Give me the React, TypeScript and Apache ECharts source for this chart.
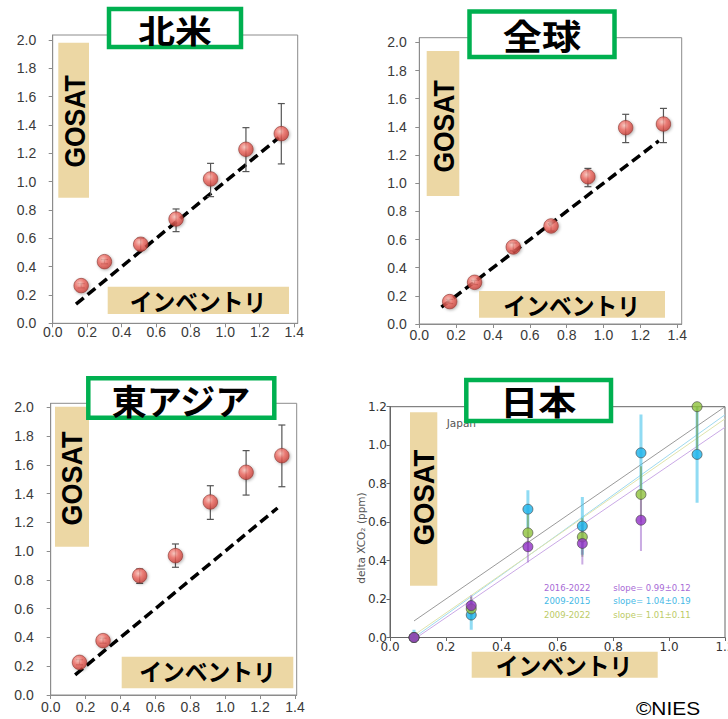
import React, { useEffect, useRef } from 'react';
import * as echarts from 'echarts';

// ---------- data ----------
const X_TICKS = [0, 0.2, 0.4, 0.6, 0.8, 1.0, 1.2, 1.4];
const Y_TICKS = [0, 0.2, 0.4, 0.6, 0.8, 1.0, 1.2, 1.4, 1.6, 1.8, 2.0];
const JP_TICKS = [0, 0.2, 0.4, 0.6, 0.8, 1.0, 1.2];

// inventory (x) values shared by the three regional panels
const INV_X = [0.165, 0.3, 0.51, 0.715, 0.915, 1.12, 1.325];

// 北米
const NA_Y = [0.266, 0.435, 0.558, 0.736, 1.019, 1.228, 1.339];
const NA_LO = [0.25, 0.42, 0.515, 0.647, 0.894, 1.071, 1.125];
const NA_HI = [0.28, 0.45, 0.6, 0.807, 1.129, 1.381, 1.551];
const NA_LINE_X = [0.135, 1.31];

// 全球
const GL_Y = [0.159, 0.296, 0.547, 0.696, 1.046, 1.394, 1.42];
const GL_LO = [0.145, 0.28, 0.52, 0.66, 0.975, 1.288, 1.288];
const GL_HI = [0.175, 0.31, 0.575, 0.73, 1.105, 1.489, 1.531];
const GL_LINE_X = [0.12, 1.3];

// 東アジア
const EA_Y = [0.227, 0.378, 0.83, 0.969, 1.342, 1.548, 1.664];
const EA_LO = [0.21, 0.36, 0.776, 0.888, 1.221, 1.39, 1.448];
const EA_HI = [0.245, 0.395, 0.876, 1.05, 1.455, 1.699, 1.877];
const EA_LINE_X = [0.14, 1.3];

// 日本
const JP_X = [0.086, 0.291, 0.494, 0.689, 0.899, 1.1];
const JP_1622 = [0.0, 0.166, 0.472, 0.489, 0.61, null];
const JP_1622_LO = [-0.02, 0.11, 0.39, 0.38, 0.45, null];
const JP_1622_HI = [0.02, 0.22, 0.55, 0.59, 0.77, null];
const JP_0915 = [0.0, 0.117, 0.667, 0.579, 0.96, 0.952];
const JP_0915_LO = [-0.03, 0.04, 0.57, 0.43, 0.76, 0.7];
const JP_0915_HI = [0.04, 0.195, 0.765, 0.73, 1.16, 1.2];
const JP_0922 = [0.0, 0.149, 0.544, 0.523, 0.744, 1.2];
const JP_0922_LO = [-0.02, 0.09, 0.45, 0.42, 0.6, 0.98];
const JP_0922_HI = [0.02, 0.21, 0.64, 0.62, 0.89, 1.42];
const JP_ONE_TO_ONE_X = [0.086, 1.2];
const JP_FIT_1622_X = [0.096, 1.2];
const JP_FIT_1622_Y = [0.0, 1.093];
const JP_FIT_0915_X = [0.087, 1.2];
const JP_FIT_0915_Y = [0.0, 1.158];
const JP_FIT_0922_X = [0.074, 1.2];
const JP_FIT_0922_Y = [0.0, 1.137];
const JP_LEGEND_PERIODS = ['2016-2022', '2009-2015', '2009-2022'];
const JP_LEGEND_SLOPES = ['slope= 0.99±0.12', 'slope= 1.04±0.19', 'slope= 1.01±0.11'];

// ---------- helpers ----------
const pairs = (xs: number[], ys: (number | null)[]) =>
  xs.map((x, i) => [x, ys[i]]).filter((p) => p[1] !== null);
const bars = (xs: number[], lo: (number | null)[], hi: (number | null)[]) =>
  xs.map((x, i) => [x, lo[i], hi[i]]).filter((p) => p[1] !== null);

const TAN = '#ecd7a4';
const GREEN_BORDER = '#00b050';
const FRAME = '#8c8c8c';

const redMarker = {
  color: {
    type: 'radial',
    x: 0.4,
    y: 0.35,
    r: 0.7,
    colorStops: [
      { offset: 0, color: '#fcc4bb' },
      { offset: 0.45, color: '#ee6a62' },
      { offset: 1, color: '#c23a33' },
    ],
  },
  borderColor: '#8a3833',
  borderWidth: 0.8,
  shadowBlur: 3,
  shadowColor: 'rgba(0,0,0,0.35)',
  shadowOffsetX: 1,
  shadowOffsetY: 1,
};

const capBars = (params: any, api: any) => {
  const x = api.value(0);
  const a = api.coord([x, api.value(1)]);
  const b = api.coord([x, api.value(2)]);
  const style = { stroke: '#555', lineWidth: 1.2, fill: 'none' };
  return {
    type: 'group',
    children: [
      { type: 'line', shape: { x1: a[0], y1: a[1], x2: b[0], y2: b[1] }, style },
      { type: 'line', shape: { x1: a[0] - 3.5, y1: a[1], x2: a[0] + 3.5, y2: a[1] }, style },
      { type: 'line', shape: { x1: b[0] - 3.5, y1: b[1], x2: b[0] + 3.5, y2: b[1] }, style },
    ],
  };
};

const plainBars = (color: string, width: number) => (params: any, api: any) => {
  const x = api.value(0);
  const a = api.coord([x, api.value(1)]);
  const b = api.coord([x, api.value(2)]);
  return {
    type: 'line',
    shape: { x1: a[0], y1: a[1], x2: b[0], y2: b[1] },
    style: { stroke: color, lineWidth: width },
  };
};

const fmt = (v: number) => v.toFixed(1);

function regionAxes(idx: number, xMax: number, yMax: number, yMargin: number, xMargin: number) {
  const common = {
    gridIndex: idx,
    type: 'value',
    min: 0,
    splitLine: { show: false },
    axisLine: { show: true, onZero: false, lineStyle: { color: FRAME, width: 1 } },
    axisTick: { show: true, inside: false, length: 4, lineStyle: { color: FRAME } },
  };
  return {
    x: {
      ...common,
      max: xMax,
      axisTick: { ...common.axisTick, customValues: X_TICKS },
      axisLabel: {
        customValues: X_TICKS,
        formatter: fmt,
        fontSize: 14,
        color: '#3a3a3a',
        fontFamily: 'Liberation Sans',
        margin: xMargin,
      },
    },
    y: {
      ...common,
      max: yMax,
      axisTick: { ...common.axisTick, customValues: Y_TICKS },
      axisLabel: {
        customValues: Y_TICKS,
        formatter: fmt,
        fontSize: 14,
        color: '#3a3a3a',
        fontFamily: 'Liberation Sans',
        margin: yMargin,
      },
    },
  };
}

function regionSeries(idx: number, ys: number[], lo: number[], hi: number[], lineX: number[]) {
  return [
    {
      type: 'line',
      xAxisIndex: idx,
      yAxisIndex: idx,
      data: lineX.map((x) => [x, x]),
      symbol: 'none',
      lineStyle: { color: '#000', width: 3.5, type: [10, 5] },
      z: 2,
    },
    {
      type: 'custom',
      xAxisIndex: idx,
      yAxisIndex: idx,
      renderItem: capBars,
      encode: { x: 0, y: [1, 2] },
      data: bars(INV_X, lo, hi),
      z: 3,
    },
    {
      type: 'scatter',
      xAxisIndex: idx,
      yAxisIndex: idx,
      data: pairs(INV_X, ys),
      symbolSize: 14.5,
      itemStyle: redMarker,
      z: 4,
    },
  ];
}

const rect = (x: number, y: number, w: number, h: number, style: any, z = 100) => ({
  type: 'rect',
  shape: { x, y, width: w, height: h },
  style,
  z,
});

const txt = (
  text: string,
  x: number,
  y: number,
  o: { size: number; family?: string; weight?: string; color?: string; align?: string; rotation?: number; scaleX?: number; scaleY?: number },
  z = 110,
) => ({
  type: 'text',
  x,
  y,
  rotation: o.rotation || 0,
  scaleX: o.scaleX || 1,
  scaleY: o.scaleY || 1,
  z,
  style: {
    text,
    fontSize: o.size,
    fontFamily: o.family || 'Liberation Sans',
    fontWeight: o.weight || 'normal',
    fill: o.color || '#000',
    textAlign: o.align || 'center',
    textVerticalAlign: 'middle',
  },
});

const titleBox = (x: number, y: number, w: number, h: number) =>
  rect(x, y, w, h, { fill: '#fff', stroke: GREEN_BORDER, lineWidth: 4.5 }, 100);

const CJK = 'Noto Sans CJK JP';

export default function App() {
  const ref = useRef<HTMLDivElement>(null);

  useEffect(() => {
    if (!ref.current) return;
    const chart = echarts.init(ref.current, null, { renderer: 'svg' });

    const a1 = regionAxes(0, 1.42, 2.035, 16.5, 2);
    const a2 = regionAxes(1, 1.424, 2.033, 12.5, 4);
    const a3 = regionAxes(2, 1.41, 2.028, 17, 5);

    const jpAxisCommon = {
      gridIndex: 3,
      type: 'value',
      min: 0,
      max: 1.2,
      splitLine: { show: false },
      axisLine: { show: true, onZero: false, lineStyle: { color: '#666', width: 1 } },
      axisTick: { show: true, inside: false, length: 3.5, lineStyle: { color: '#666' }, customValues: JP_TICKS },
      axisLabel: {
        customValues: JP_TICKS,
        formatter: fmt,
        fontSize: 12,
        color: '#333',
        fontFamily: 'DejaVu Sans',
        margin: 3,
      },
    };

    const JP_PURPLE = '#9130c6';
    const JP_CYAN = '#19b2ea';
    const JP_GREEN = '#8fc23c';

    const jpScatter = (data: any[], color: string, z: number) => ({
      type: 'scatter',
      xAxisIndex: 3,
      yAxisIndex: 3,
      data,
      symbolSize: 10,
      itemStyle: { color, borderColor: '#444', borderWidth: 0.8 },
      z,
    });
    const jpBars = (data: any[], color: string, width: number, z: number) => ({
      type: 'custom',
      xAxisIndex: 3,
      yAxisIndex: 3,
      renderItem: plainBars(color, width),
      encode: { x: 0, y: [1, 2] },
      clip: true,
      data,
      z,
    });
    const jpLine = (xs: number[], ys: number[], color: string, width: number) => ({
      type: 'line',
      xAxisIndex: 3,
      yAxisIndex: 3,
      data: pairs(xs, ys),
      symbol: 'none',
      lineStyle: { color, width },
      z: 1,
    });

    const option: any = {
      animation: false,
      backgroundColor: '#fff',
      grid: [
        { left: 52.7, top: 35, width: 245, height: 288.3, show: true, borderColor: FRAME, borderWidth: 1, outerBoundsMode: 'none' },
        { left: 419.3, top: 37.7, width: 262.4, height: 286.3, show: true, borderColor: FRAME, borderWidth: 1, outerBoundsMode: 'none' },
        { left: 50.7, top: 403.3, width: 246, height: 291.7, show: true, borderColor: FRAME, borderWidth: 1, outerBoundsMode: 'none' },
        { left: 390, top: 406.7, width: 335, height: 230.8, show: true, borderColor: '#666', borderWidth: 1, outerBoundsMode: 'none' },
      ],
      xAxis: [a1.x, a2.x, a3.x, { ...jpAxisCommon }],
      yAxis: [a1.y, a2.y, a3.y, { ...jpAxisCommon }],
      series: [
        ...regionSeries(0, NA_Y, NA_LO, NA_HI, NA_LINE_X),
        ...regionSeries(1, GL_Y, GL_LO, GL_HI, GL_LINE_X),
        ...regionSeries(2, EA_Y, EA_LO, EA_HI, EA_LINE_X),
        jpLine(JP_ONE_TO_ONE_X, JP_ONE_TO_ONE_X, '#808080', 0.8),
        jpLine(JP_FIT_0915_X, JP_FIT_0915_Y, '#9fd9ef', 1),
        jpLine(JP_FIT_0922_X, JP_FIT_0922_Y, '#dfe4ad', 1),
        jpLine(JP_FIT_1622_X, JP_FIT_1622_Y, '#caa9e6', 1),
        jpBars(bars(JP_X, JP_0915_LO, JP_0915_HI), 'rgba(70,195,235,0.6)', 3, 2),
        jpBars(bars(JP_X, JP_0922_LO, JP_0922_HI), 'rgba(110,150,60,0.55)', 2, 2),
        jpBars(bars(JP_X, JP_1622_LO, JP_1622_HI), 'rgba(150,90,200,0.5)', 2, 2),
        jpScatter(pairs(JP_X, JP_0915), JP_CYAN, 3),
        jpScatter(pairs(JP_X, JP_0922), JP_GREEN, 4),
        jpScatter(pairs(JP_X, JP_1622), JP_PURPLE, 5),
      ],
      graphic: [
        // Japan panel inner texts
        txt('Japan', 446.7, 422.5, { size: 10.5, family: 'DejaVu Sans', color: '#555', align: 'left' }, 50),
        txt('delta XCO₂ (ppm)', 361, 538, { size: 10.5, family: 'DejaVu Sans', color: '#555', rotation: Math.PI / 2 }, 50),
        ...JP_LEGEND_PERIODS.map((t, i) =>
          txt(t, 544, 587.5 + i * 13.5, { size: 8.5, family: 'DejaVu Sans', color: ['#a86ad6', '#45b9e6', '#bccb66'][i], align: 'left' }, 50),
        ),
        ...JP_LEGEND_SLOPES.map((t, i) =>
          txt(t, 613.3, 587.5 + i * 13.5, { size: 8.5, family: 'DejaVu Sans', color: ['#a86ad6', '#45b9e6', '#bccb66'][i], align: 'left' }, 50),
        ),
        // GOSAT boxes
        rect(58.3, 42.7, 30.7, 155, { fill: TAN }),
        rect(426.7, 51, 32.6, 145, { fill: TAN }),
        rect(55, 406.7, 34, 140, { fill: TAN }),
        rect(410, 412.3, 27.3, 173.4, { fill: TAN }),
        txt('GOSAT', 74, 121.5, { size: 26.5, weight: 'bold', rotation: Math.PI / 2, scaleY: 1.14 }),
        txt('GOSAT', 443, 126.5, { size: 26.5, weight: 'bold', rotation: Math.PI / 2, scaleY: 1.14 }),
        txt('GOSAT', 71.7, 478.5, { size: 27, weight: 'bold', rotation: Math.PI / 2, scaleY: 1.1 }),
        txt('GOSAT', 423.5, 497.5, { size: 27.5, weight: 'bold', rotation: Math.PI / 2, scaleY: 1.1 }),
        // inventory boxes
        rect(107.7, 286.7, 181.3, 27.3, { fill: TAN }),
        rect(479, 291, 186, 26.7, { fill: TAN }),
        rect(121.7, 656.7, 171.6, 31.6, { fill: TAN }),
        rect(471.7, 651.7, 186, 26, { fill: TAN }),
        txt('インベントリ', 198, 301, { size: 24, weight: 'bold', family: CJK, scaleX: 0.95 }),
        txt('インベントリ', 571.7, 305, { size: 24, weight: 'bold', family: CJK, scaleX: 0.95 }),
        txt('インベントリ', 207.5, 671, { size: 24, weight: 'bold', family: CJK, scaleX: 0.95 }),
        txt('インベントリ', 564, 665, { size: 24, weight: 'bold', family: CJK, scaleX: 0.95 }),
        // title boxes
        titleBox(109, 9, 132, 38),
        titleBox(469.5, 11.5, 145, 45.5),
        titleBox(88.3, 378.3, 186, 39.5),
        titleBox(466.3, 380, 144.7, 41),
        txt('北米', 175, 29, { size: 32, weight: 'bold', family: CJK, scaleX: 1.15 }, 120),
        txt('全球', 542, 35, { size: 35, weight: 'bold', family: CJK, scaleX: 1.12 }, 120),
        txt('東アジア', 181, 399, { size: 35, weight: 'bold', family: CJK }, 120),
        txt('日本', 538.3, 400, { size: 34, weight: 'bold', family: CJK, scaleX: 1.12 }, 120),
        // credit
        txt('©NIES', 668, 708.5, { size: 19, family: 'Liberation Sans', scaleX: 1.1 }, 120),
      ],
    };

    chart.setOption(option);
    return () => chart.dispose();
  }, []);

  return (
    <div
      ref={ref}
      style={{ position: 'absolute', left: 0, top: 0, width: 728, height: 719, background: '#fff' }}
    />
  );
}
